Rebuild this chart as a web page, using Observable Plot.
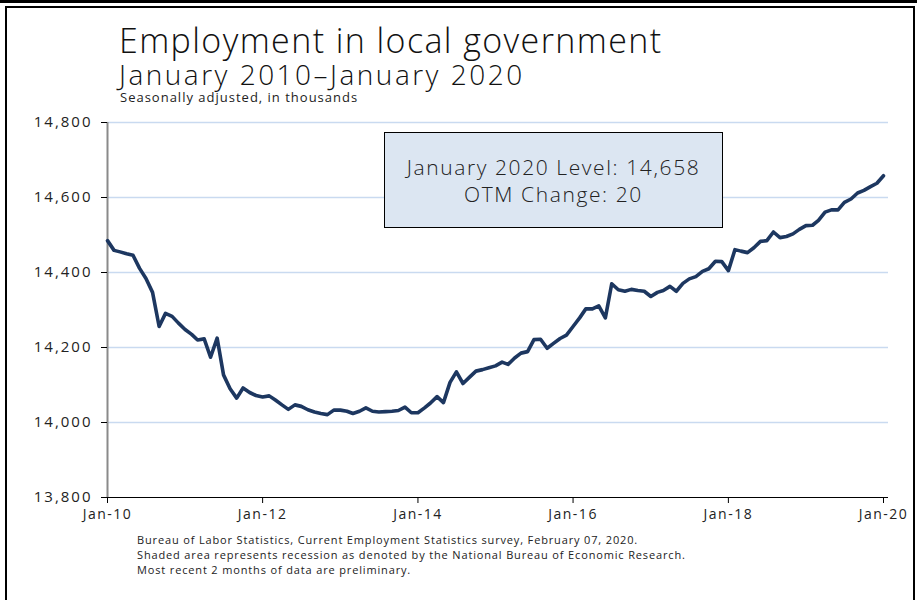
<!DOCTYPE html>
<html><head><meta charset="utf-8">
<script src="https://cdn.jsdelivr.net/npm/d3@7"></script>
<script src="https://cdn.jsdelivr.net/npm/@observablehq/plot@0.6"></script>
<style>
html,body{margin:0;padding:0;}
body{width:917px;height:600px;overflow:hidden;background:#fff;position:relative;font-family:"Open Sans",sans-serif;color:#111;}
#topbar{position:absolute;left:0;top:0;width:917px;height:3px;background:#000;}
#frame{position:absolute;left:5px;top:6px;width:906px;height:620px;border:2px solid #000;}
.t{position:absolute;white-space:nowrap;font-weight:300;}
#title{left:119px;top:23px;font-size:34px;line-height:34px;letter-spacing:1.4px;}
#sub{left:119px;top:60px;font-size:28px;line-height:28px;letter-spacing:2.5px;}
#note{left:120px;top:91px;font-size:13px;line-height:13px;letter-spacing:1px;font-weight:400;color:#222;}
#chart{position:absolute;left:0;top:110px;}
#box{position:absolute;left:384px;top:132px;width:339px;height:96px;background:#dce6f2;border:1px solid #000;box-sizing:border-box;text-align:center;font-size:21px;line-height:27px;padding-top:21px;font-weight:300;letter-spacing:1.6px;color:#222;}
#cap{position:absolute;left:137px;top:532px;font-size:11px;line-height:15px;letter-spacing:0.85px;color:#222;}
#chart g[aria-label="y-axis tick label"] text{letter-spacing:2px;}
#chart g[aria-label="x-axis tick label"] text{letter-spacing:1.5px;}
</style></head><body>
<div id="topbar"></div><div id="frame"></div>
<div class="t" id="title">Employment in local government</div>
<div class="t" id="sub">January 2010–January 2020</div>
<div class="t" id="note">Seasonally adjusted, in thousands</div>
<div id="chart"></div>
<div id="box"></div>
<div id="cap"></div>
<script>
// Monthly values, January 2010 – January 2020 (thousands, seasonally adjusted)
const startMonth = "2010-01";
const values = [
  14485,14459,14455,14450,14446,14411,14384,14347,14256,14291,14283,14265, // 2010
  14248,14235,14220,14223,14174,14225,14127,14090,14065,14092,14080,14072, // 2011
  14068,14071,14060,14047,14035,14047,14043,14034,14028,14024,14021,14033, // 2012
  14033,14030,14024,14030,14039,14030,14028,14029,14030,14032,14041,14026, // 2013
  14026,14039,14052,14069,14053,14107,14135,14104,14121,14137,14141,14146, // 2014
  14151,14161,14155,14172,14185,14189,14221,14222,14198,14211,14224,14233, // 2015
  14256,14279,14303,14303,14311,14279,14370,14354,14350,14355,14352,14350, // 2016
  14336,14347,14352,14363,14350,14371,14383,14389,14403,14410,14430,14429, // 2017
  14405,14461,14457,14453,14466,14483,14485,14508,14493,14496,14503,14515, // 2018
  14525,14526,14539,14561,14567,14567,14587,14596,14612,14619,14629,14638, // 2019
  14658 // Jan 2020
];
const xTickLabels = ["Jan-10","Jan-12","Jan-14","Jan-16","Jan-18","Jan-20"];
const yTicks = [13800,14000,14200,14400,14600,14800];
const gridTicks = [14000,14200,14400,14600,14800];
const captionLines = [
  "Bureau of Labor Statistics, Current Employment Statistics survey, February 07, 2020.",
  "Shaded area represents recession as denoted by the National Bureau of Economic Research.",
  "Most recent 2 months of data are preliminary."
];

document.getElementById("cap").innerHTML = captionLines.join("<br>");

const t0 = new Date(startMonth + "-01T00:00:00Z");
const data = values.map((v,i) => ({date: d3.utcMonth.offset(t0, i), value: v}));
const tEnd = data[data.length-1].date;
const xTicks = xTickLabels.map(s => new Date(Date.UTC(2000 + +s.slice(4), 0, 1)));

const last = data[data.length-1], prev = data[data.length-2];
document.getElementById("box").innerHTML =
  d3.utcFormat("%B %Y")(last.date) + " Level: " + d3.format(",")(last.value) +
  "<br>OTM Change: " + (last.value - prev.value);

const chart = Plot.plot({
  width: 917, height: 422,
  marginLeft: 107, marginRight: 34, marginTop: 12, marginBottom: 35,
  style: {fontFamily: "'Open Sans', sans-serif", color: "#222", background: "transparent"},
  x: {type: "utc", domain: [t0, tEnd]},
  y: {domain: [13800, 14800]},
  marks: [
    Plot.ruleY(gridTicks, {stroke: "#c9daf0", strokeWidth: 1.5, insetRight: -5}),
    Plot.ruleX([t0], {stroke: "#8a8a8a", strokeWidth: 2}),
    Plot.ruleY([13800], {stroke: "#000", strokeWidth: 1.2, insetRight: -5}),
    Plot.axisY(yTicks, {tickFormat: d3.format(","), tickSize: 6, tickPadding: 9, fontSize: 15, label: null, stroke: "#000"}),
    Plot.axisX(xTicks, {tickFormat: (d, i) => xTickLabels[i], tickSize: 6, tickPadding: 6, fontSize: 14, label: null, stroke: "#000"}),
    Plot.lineY(data, {x: "date", y: "value", stroke: "#1d3760", strokeWidth: 3.6, strokeLinejoin: "round", strokeLinecap: "round"})
  ]
});
document.getElementById("chart").appendChild(chart);
</script>
</body></html>
